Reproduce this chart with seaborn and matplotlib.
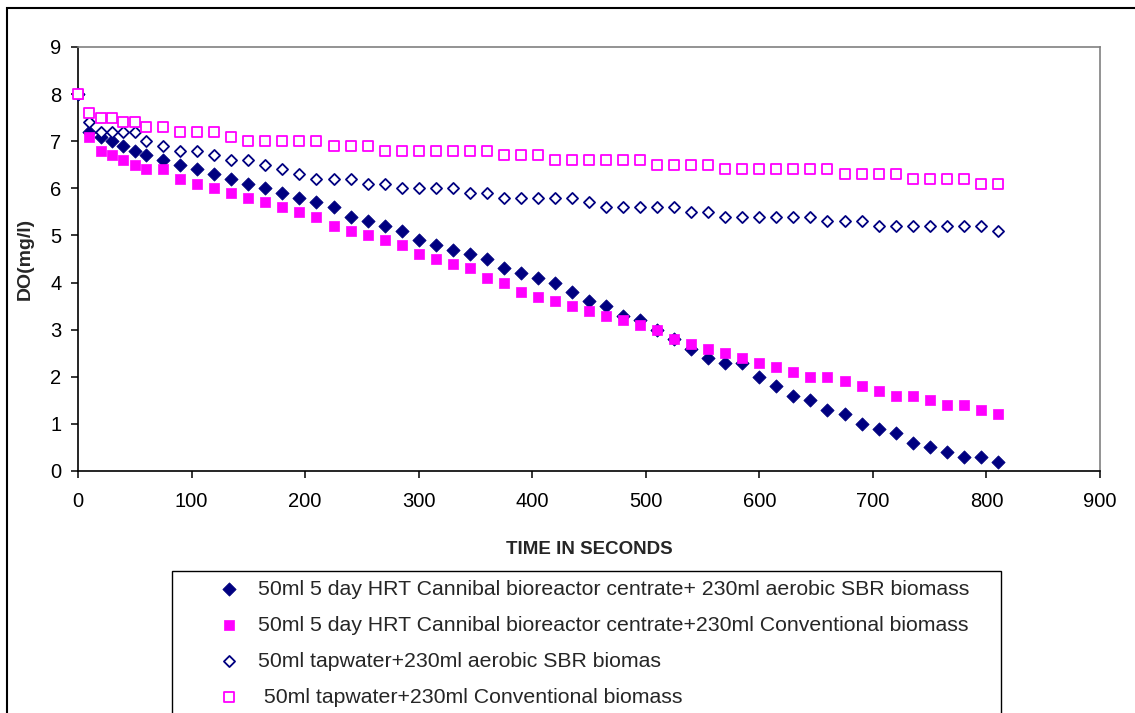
import matplotlib
matplotlib.use("Agg")
import matplotlib.pyplot as plt
import seaborn as sns
from matplotlib.patches import Rectangle

NAVY = "#000080"
MAGENTA = "#FF00FF"

time_s = [0, 10, 20, 30, 40, 50, 60, 75, 90, 105, 120, 135, 150, 165, 180, 195,
          210, 225, 240, 255, 270, 285, 300, 315, 330, 345, 360, 375, 390, 405,
          420, 435, 450, 465, 480, 495, 510, 525, 540, 555, 570, 585, 600, 615,
          630, 645, 660, 675, 690, 705, 720, 735, 750, 765, 780, 795, 810]

centrate_sbr = [8.0, 7.2, 7.1, 7.0, 6.9, 6.8, 6.7, 6.6, 6.5, 6.4, 6.3, 6.2, 6.1,
                6.0, 5.9, 5.8, 5.7, 5.6, 5.4, 5.3, 5.2, 5.1, 4.9, 4.8, 4.7, 4.6,
                4.5, 4.3, 4.2, 4.1, 4.0, 3.8, 3.6, 3.5, 3.3, 3.2, 3.0, 2.8, 2.6,
                2.4, 2.3, 2.3, 2.0, 1.8, 1.6, 1.5, 1.3, 1.2, 1.0, 0.9, 0.8, 0.6,
                0.5, 0.4, 0.3, 0.3, 0.2]

centrate_conv = [8.0, 7.1, 6.8, 6.7, 6.6, 6.5, 6.4, 6.4, 6.2, 6.1, 6.0, 5.9, 5.8,
                 5.7, 5.6, 5.5, 5.4, 5.2, 5.1, 5.0, 4.9, 4.8, 4.6, 4.5, 4.4, 4.3,
                 4.1, 4.0, 3.8, 3.7, 3.6, 3.5, 3.4, 3.3, 3.2, 3.1, 3.0, 2.8, 2.7,
                 2.6, 2.5, 2.4, 2.3, 2.2, 2.1, 2.0, 2.0, 1.9, 1.8, 1.7, 1.6, 1.6,
                 1.5, 1.4, 1.4, 1.3, 1.2]

tap_sbr = [8.0, 7.4, 7.2, 7.2, 7.2, 7.2, 7.0, 6.9, 6.8, 6.8, 6.7, 6.6, 6.6, 6.5,
           6.4, 6.3, 6.2, 6.2, 6.2, 6.1, 6.1, 6.0, 6.0, 6.0, 6.0, 5.9, 5.9, 5.8,
           5.8, 5.8, 5.8, 5.8, 5.7, 5.6, 5.6, 5.6, 5.6, 5.6, 5.5, 5.5, 5.4, 5.4,
           5.4, 5.4, 5.4, 5.4, 5.3, 5.3, 5.3, 5.2, 5.2, 5.2, 5.2, 5.2, 5.2, 5.2,
           5.1]

tap_conv = [8.0, 7.6, 7.5, 7.5, 7.4, 7.4, 7.3, 7.3, 7.2, 7.2, 7.2, 7.1, 7.0, 7.0,
            7.0, 7.0, 7.0, 6.9, 6.9, 6.9, 6.8, 6.8, 6.8, 6.8, 6.8, 6.8, 6.8, 6.7,
            6.7, 6.7, 6.6, 6.6, 6.6, 6.6, 6.6, 6.6, 6.5, 6.5, 6.5, 6.5, 6.4, 6.4,
            6.4, 6.4, 6.4, 6.4, 6.4, 6.3, 6.3, 6.3, 6.3, 6.2, 6.2, 6.2, 6.2, 6.1,
            6.1]

labels = [
    "50ml 5 day HRT Cannibal bioreactor centrate+ 230ml aerobic SBR biomass",
    "50ml 5 day HRT Cannibal bioreactor centrate+230ml Conventional biomass",
    "50ml tapwater+230ml aerobic SBR biomas",
    " 50ml tapwater+230ml Conventional biomass",
]

sns.set_style("ticks")
plt.rcParams["font.family"] = ["Liberation Sans", "DejaVu Sans"]

W, H = 1135, 713
fig = plt.figure(figsize=(W / 100, H / 100), dpi=100)
ax = fig.add_axes([78 / W, (H - 471) / H, 1022 / W, 424 / H])

common = dict(ax=ax, clip_on=False, zorder=3)
sns.scatterplot(x=time_s, y=centrate_sbr, marker="D", s=46, color=NAVY,
                edgecolor=NAVY, linewidth=0.5, label=labels[0], **common)
sns.scatterplot(x=time_s, y=centrate_conv, marker="s", s=58, color=MAGENTA,
                edgecolor=MAGENTA, linewidth=0.5, label=labels[1], **common)
sns.scatterplot(x=time_s, y=tap_sbr, marker="D", s=32, color="white",
                edgecolor=NAVY, linewidth=1.3, label=labels[2], **common)
sns.scatterplot(x=time_s, y=tap_conv, marker="s", s=48, color="white",
                edgecolor=MAGENTA, linewidth=1.3, label=labels[3], **common)

handles, labs = ax.get_legend_handles_labels()
if ax.get_legend() is not None:
    ax.get_legend().remove()

ax.set_xlim(0, 900)
ax.set_ylim(0, 9)
ax.set_xticks(range(0, 901, 100))
ax.set_yticks(range(0, 10))
ax.tick_params(axis="both", direction="out", length=5, width=1.1,
               color="black", labelsize=14.5, labelcolor="black")
ax.tick_params(axis="x", pad=10)
ax.tick_params(axis="y", pad=7)

for side in ("left", "bottom"):
    ax.spines[side].set_color("black")
    ax.spines[side].set_linewidth(1.2)
for side in ("top", "right"):
    ax.spines[side].set_visible(True)
    ax.spines[side].set_color("#808080")
    ax.spines[side].set_linewidth(1.2)

ax.set_xlabel("TIME IN SECONDS", fontsize=13.5, fontweight="bold")
ax.set_ylabel("DO(mg/l)", fontsize=14, fontweight="bold")
ax.xaxis.set_label_coords(0.5, -0.165)
ax.yaxis.set_label_coords(-0.043, 0.5)

leg = fig.legend(handles, labs, loc="upper left",
                 bbox_to_anchor=(172 / W, (H - 571) / H, (1001 - 172) / W, 0),
                 mode="expand", fontsize=15.3, frameon=True, fancybox=False,
                 edgecolor="black", framealpha=1, borderpad=0.42,
                 labelspacing=0.8, handlelength=4.55, handletextpad=-0.92,
                 borderaxespad=0, scatterpoints=1)
leg.get_frame().set_linewidth(1.0)

# outer chart border
fig.patches.append(Rectangle((7 / W, -0.1), 1.2, (H - 8) / H + 0.1,
                             transform=fig.transFigure, fill=False,
                             edgecolor="black", linewidth=1.5))

fig.savefig("out.png", dpi=100)
plt.close(fig)
